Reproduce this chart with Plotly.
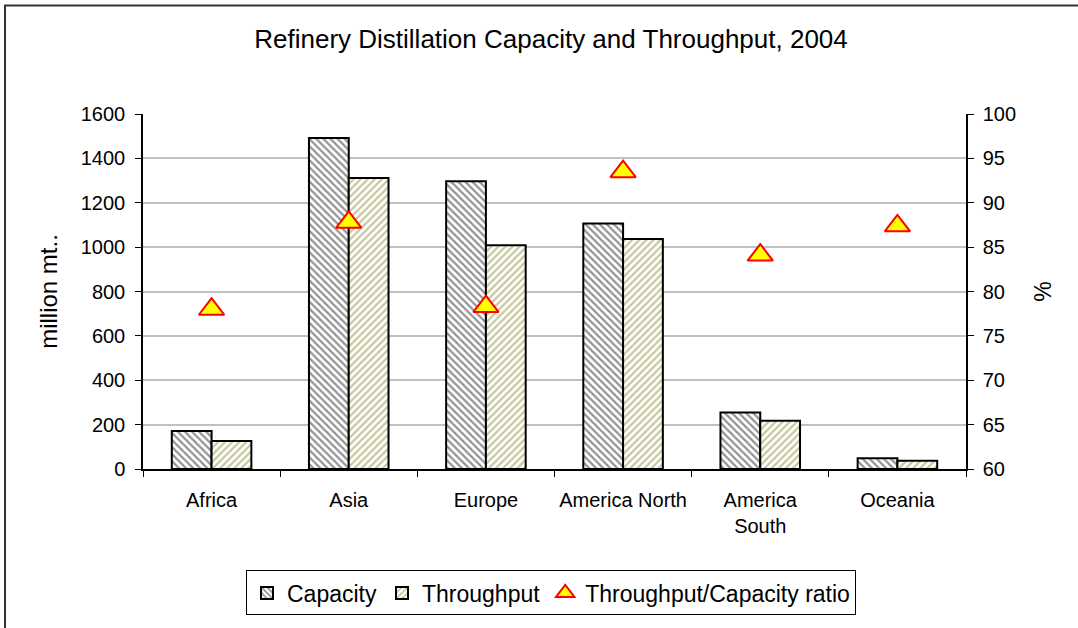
import plotly.graph_objects as go

# Data
regions = ["Africa", "Asia", "Europe", "America North", "America<br>South", "Oceania"]
capacity = [171, 1492, 1297, 1107, 255, 48]
throughput = [126, 1312, 1008, 1037, 217, 37]
ratio = [78.0, 87.8, 78.3, 93.5, 84.1, 87.4]

FONT = "Liberation Sans, Arial, sans-serif"

# plot area in pixels (from the reference)
W, H = 1078, 628
L, R, T, B = 143, 966, 114, 471
pw, ph = R - L, B - T

fig = go.Figure()

fig.add_trace(go.Bar(
    x=regions, y=capacity, name="Capacity",
    marker=dict(color="white", line=dict(color="black", width=2),
                pattern=dict(shape="\\", fgcolor="#262626", bgcolor="white",
                             size=5, solidity=0.45)),
))
fig.add_trace(go.Bar(
    x=regions, y=throughput, name="Throughput",
    marker=dict(color="white", line=dict(color="black", width=2),
                pattern=dict(shape="/", fgcolor="#8f8f3c", bgcolor="white",
                             size=5, solidity=0.45)),
))
fig.add_trace(go.Scatter(
    x=regions, y=ratio, name="Throughput/Capacity ratio", yaxis="y2",
    mode="markers",
    marker=dict(symbol="triangle-up", size=22, color="#ffff00",
                line=dict(color="#ff0000", width=2)),
))

# outer frame of the picture
fig.add_shape(type="rect", xref="paper", yref="paper",
              x0=(5 - L) / pw, x1=(1090 - L) / pw,
              y0=-(640 - B) / ph, y1=1 + (T - 5) / ph,
              line=dict(color="#333333", width=2), layer="below")

fig.update_layout(
    width=W, height=H,
    margin=dict(l=L, r=W - R, t=T, b=H - B),
    paper_bgcolor="white", plot_bgcolor="white",
    font=dict(family=FONT, size=20, color="black"),
    title=dict(text="Refinery Distillation Capacity and Throughput, 2004",
               x=(551 - L) / pw, xanchor="center", xref="paper",
               y=1 - 39 / H, yanchor="middle",
               font=dict(size=26)),
    barmode="group", bargap=0.42, bargroupgap=0,
    showlegend=True,
    legend=dict(orientation="h", x=(551 - L) / pw, xanchor="center",
                y=-(573 - B) / ph, yanchor="top",
                bordercolor="black", borderwidth=1, bgcolor="white",
                font=dict(size=23), itemsizing="trace",
                itemwidth=30, tracegroupgap=0),
    xaxis=dict(showline=True, linecolor="black", linewidth=1.5,
               ticks="outside", tickson="boundaries", ticklen=6,
               tickcolor="black", tickfont=dict(size=20), tickangle=0,
               ticklabelstandoff=12, mirror=False),
    yaxis=dict(range=[0, 1600], dtick=200, showline=True, linecolor="black",
               linewidth=1.5, ticks="outside", ticklen=6, tickcolor="black",
               showgrid=True, gridcolor="#c0c0c0", gridwidth=1.5,
               zeroline=False, ticklabelstandoff=6,
               title=dict(text="million mt..", font=dict(size=24), standoff=16),
               tickfont=dict(size=20)),
    yaxis2=dict(range=[60, 100], dtick=5, overlaying="y", side="right",
                showline=True, linecolor="black", linewidth=1.5,
                ticks="outside", ticklen=6, tickcolor="black",
                showgrid=False, zeroline=False, ticklabelstandoff=5,
                title=dict(text="%", font=dict(size=23), standoff=20),
                tickfont=dict(size=20)),
)

fig.write_html("out.html",
               config={"displayModeBar": False},
               post_script="document.body.style.margin='0px';"
                           "document.body.style.overflow='hidden';")
